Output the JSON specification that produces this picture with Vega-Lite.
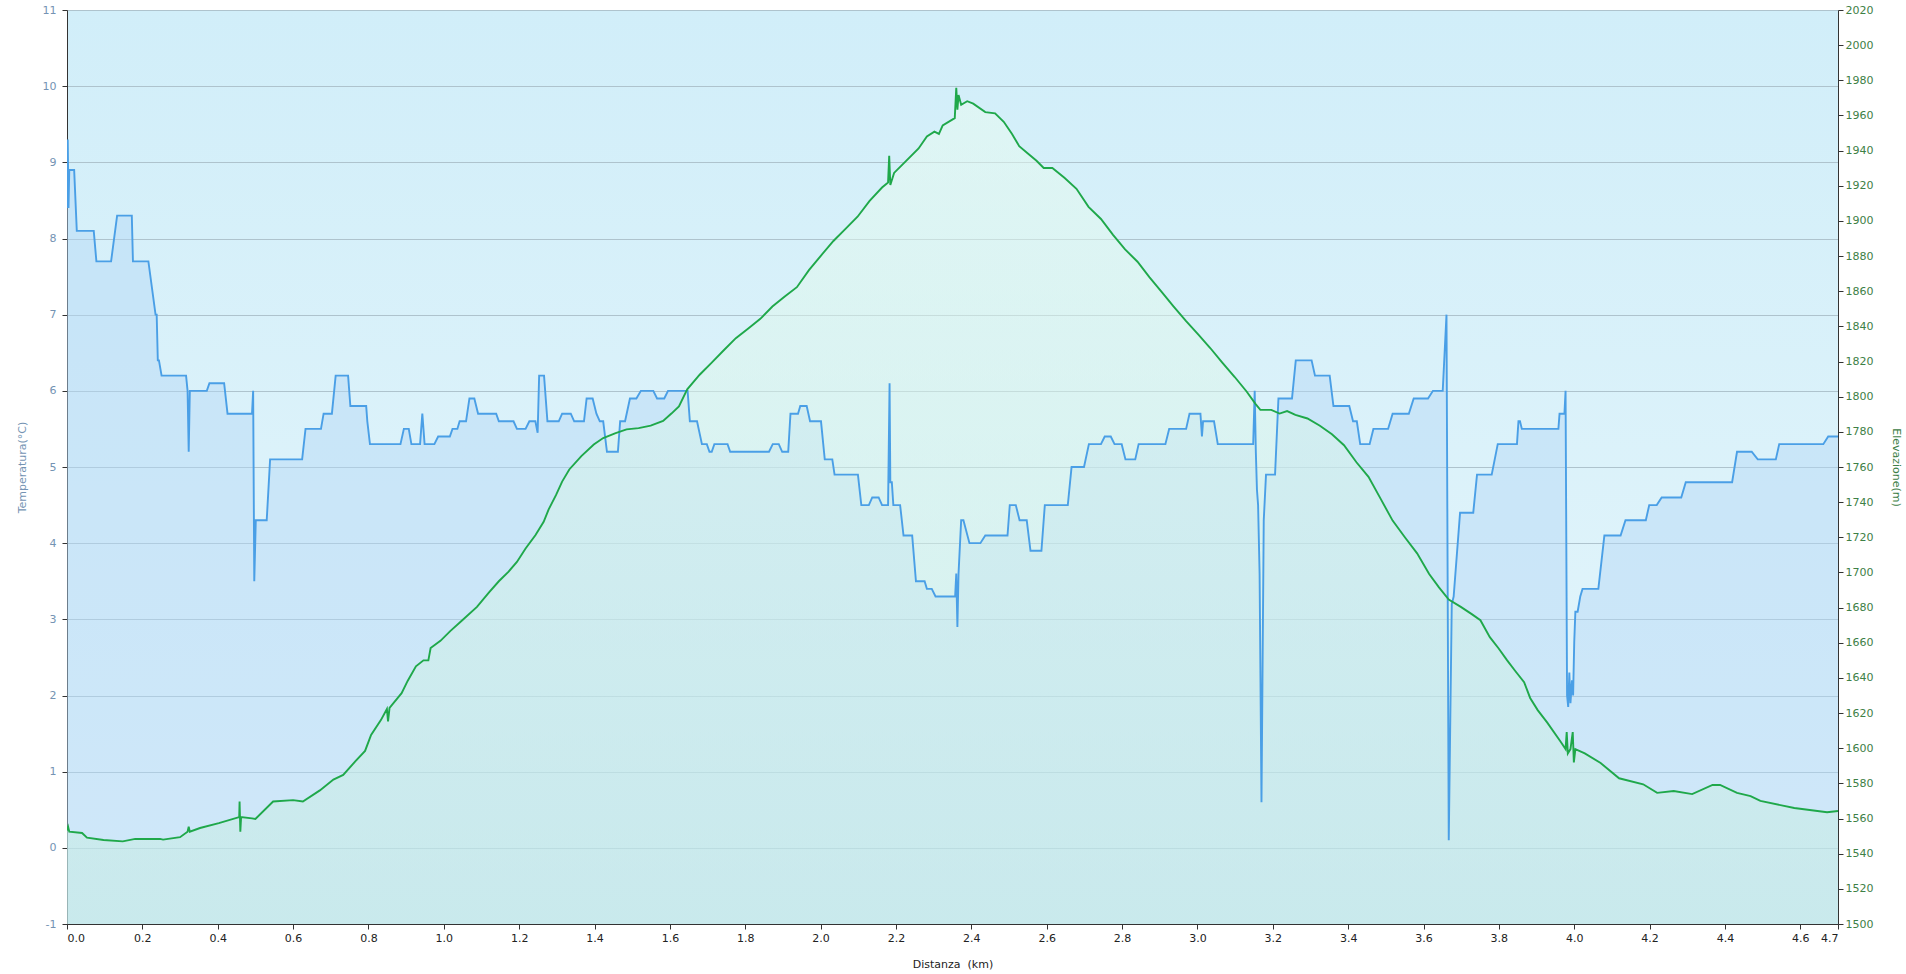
{
  "$schema": "https://vega.github.io/schema/vega-lite/v6.json",
  "width": 1771,
  "height": 914,
  "autosize": "none",
  "padding": {"left": 67, "top": 10, "right": 68, "bottom": 50},
  "background": "white",
  "config": {
    "font": "DejaVu Sans",
    "view": {
      "stroke": "#c4c4c4",
      "fill": {
        "gradient": "linear", "x1": 0, "y1": 0, "x2": 0, "y2": 1,
        "stops": [{"offset": 0, "color": "#d1eef9"}, {"offset": 1, "color": "#e6f6fb"}]
      }
    },
    "axis": {
      "domainColor": "#333333",
      "tickColor": "#333333",
      "tickSize": 5,
      "labelFontSize": 11,
      "titleFontSize": 11,
      "titleFontWeight": "normal",
      "grid": false
    }
  },
  "datasets": {
    "temp": [
      {"d": 0.000, "t": 8.4}, {"d": 0.002, "t": 9.3}, {"d": 0.004, "t": 8.4}, {"d": 0.006, "t": 8.9},
      {"d": 0.019, "t": 8.9}, {"d": 0.026, "t": 8.1}, {"d": 0.071, "t": 8.1}, {"d": 0.078, "t": 7.7},
      {"d": 0.117, "t": 7.7}, {"d": 0.133, "t": 8.3}, {"d": 0.172, "t": 8.3}, {"d": 0.175, "t": 7.7},
      {"d": 0.216, "t": 7.7}, {"d": 0.235, "t": 7.0}, {"d": 0.238, "t": 7.0}, {"d": 0.241, "t": 6.4},
      {"d": 0.244, "t": 6.4}, {"d": 0.251, "t": 6.2}, {"d": 0.316, "t": 6.2}, {"d": 0.320, "t": 6.0},
      {"d": 0.323, "t": 5.2}, {"d": 0.326, "t": 6.0}, {"d": 0.371, "t": 6.0}, {"d": 0.378, "t": 6.1},
      {"d": 0.417, "t": 6.1}, {"d": 0.426, "t": 5.7}, {"d": 0.491, "t": 5.7}, {"d": 0.494, "t": 6.0},
      {"d": 0.497, "t": 3.5}, {"d": 0.501, "t": 4.3}, {"d": 0.530, "t": 4.3}, {"d": 0.539, "t": 5.1},
      {"d": 0.624, "t": 5.1}, {"d": 0.633, "t": 5.5}, {"d": 0.674, "t": 5.5}, {"d": 0.681, "t": 5.7},
      {"d": 0.703, "t": 5.7}, {"d": 0.713, "t": 6.2}, {"d": 0.746, "t": 6.2}, {"d": 0.752, "t": 5.8},
      {"d": 0.794, "t": 5.8}, {"d": 0.797, "t": 5.6}, {"d": 0.804, "t": 5.3}, {"d": 0.885, "t": 5.3},
      {"d": 0.894, "t": 5.5}, {"d": 0.907, "t": 5.5}, {"d": 0.914, "t": 5.3}, {"d": 0.937, "t": 5.3},
      {"d": 0.943, "t": 5.7}, {"d": 0.949, "t": 5.3}, {"d": 0.975, "t": 5.3}, {"d": 0.985, "t": 5.4},
      {"d": 1.016, "t": 5.4}, {"d": 1.023, "t": 5.5}, {"d": 1.036, "t": 5.5}, {"d": 1.042, "t": 5.6},
      {"d": 1.059, "t": 5.6}, {"d": 1.068, "t": 5.9}, {"d": 1.081, "t": 5.9}, {"d": 1.091, "t": 5.7},
      {"d": 1.139, "t": 5.7}, {"d": 1.146, "t": 5.6}, {"d": 1.185, "t": 5.6}, {"d": 1.194, "t": 5.5},
      {"d": 1.217, "t": 5.5}, {"d": 1.227, "t": 5.6}, {"d": 1.243, "t": 5.6}, {"d": 1.249, "t": 5.45},
      {"d": 1.253, "t": 6.2}, {"d": 1.266, "t": 6.2}, {"d": 1.275, "t": 5.6}, {"d": 1.305, "t": 5.6},
      {"d": 1.314, "t": 5.7}, {"d": 1.337, "t": 5.7}, {"d": 1.346, "t": 5.6}, {"d": 1.372, "t": 5.6},
      {"d": 1.379, "t": 5.9}, {"d": 1.395, "t": 5.9}, {"d": 1.405, "t": 5.7}, {"d": 1.414, "t": 5.6},
      {"d": 1.423, "t": 5.6}, {"d": 1.433, "t": 5.2}, {"d": 1.462, "t": 5.2}, {"d": 1.468, "t": 5.6},
      {"d": 1.481, "t": 5.6}, {"d": 1.494, "t": 5.9}, {"d": 1.511, "t": 5.9}, {"d": 1.523, "t": 6.0},
      {"d": 1.556, "t": 6.0}, {"d": 1.566, "t": 5.9}, {"d": 1.585, "t": 5.9}, {"d": 1.595, "t": 6.0},
      {"d": 1.647, "t": 6.0}, {"d": 1.653, "t": 5.6}, {"d": 1.672, "t": 5.6}, {"d": 1.685, "t": 5.3},
      {"d": 1.698, "t": 5.3}, {"d": 1.705, "t": 5.2}, {"d": 1.711, "t": 5.2}, {"d": 1.718, "t": 5.3},
      {"d": 1.753, "t": 5.3}, {"d": 1.760, "t": 5.2}, {"d": 1.863, "t": 5.2}, {"d": 1.873, "t": 5.3},
      {"d": 1.889, "t": 5.3}, {"d": 1.898, "t": 5.2}, {"d": 1.914, "t": 5.2}, {"d": 1.920, "t": 5.7},
      {"d": 1.940, "t": 5.7}, {"d": 1.946, "t": 5.8}, {"d": 1.963, "t": 5.8}, {"d": 1.972, "t": 5.6},
      {"d": 2.001, "t": 5.6}, {"d": 2.011, "t": 5.1}, {"d": 2.031, "t": 5.1}, {"d": 2.037, "t": 4.9},
      {"d": 2.099, "t": 4.9}, {"d": 2.108, "t": 4.5}, {"d": 2.128, "t": 4.5}, {"d": 2.137, "t": 4.6},
      {"d": 2.154, "t": 4.6}, {"d": 2.163, "t": 4.5}, {"d": 2.179, "t": 4.5}, {"d": 2.183, "t": 6.1},
      {"d": 2.185, "t": 4.8}, {"d": 2.189, "t": 4.8}, {"d": 2.193, "t": 4.5}, {"d": 2.211, "t": 4.5},
      {"d": 2.220, "t": 4.1}, {"d": 2.243, "t": 4.1}, {"d": 2.253, "t": 3.5}, {"d": 2.276, "t": 3.5},
      {"d": 2.282, "t": 3.4}, {"d": 2.295, "t": 3.4}, {"d": 2.305, "t": 3.3}, {"d": 2.357, "t": 3.3},
      {"d": 2.360, "t": 3.6}, {"d": 2.363, "t": 2.9}, {"d": 2.366, "t": 3.6}, {"d": 2.373, "t": 4.3},
      {"d": 2.379, "t": 4.3}, {"d": 2.395, "t": 4.0}, {"d": 2.424, "t": 4.0}, {"d": 2.437, "t": 4.1},
      {"d": 2.496, "t": 4.1}, {"d": 2.502, "t": 4.5}, {"d": 2.518, "t": 4.5}, {"d": 2.528, "t": 4.3},
      {"d": 2.547, "t": 4.3}, {"d": 2.557, "t": 3.9}, {"d": 2.586, "t": 3.9}, {"d": 2.595, "t": 4.5},
      {"d": 2.656, "t": 4.5}, {"d": 2.666, "t": 5.0}, {"d": 2.699, "t": 5.0}, {"d": 2.712, "t": 5.3},
      {"d": 2.744, "t": 5.3}, {"d": 2.754, "t": 5.4}, {"d": 2.770, "t": 5.4}, {"d": 2.780, "t": 5.3},
      {"d": 2.799, "t": 5.3}, {"d": 2.809, "t": 5.1}, {"d": 2.835, "t": 5.1}, {"d": 2.844, "t": 5.3},
      {"d": 2.915, "t": 5.3}, {"d": 2.925, "t": 5.5}, {"d": 2.970, "t": 5.5}, {"d": 2.979, "t": 5.7},
      {"d": 3.008, "t": 5.7}, {"d": 3.012, "t": 5.4}, {"d": 3.015, "t": 5.6}, {"d": 3.044, "t": 5.6},
      {"d": 3.054, "t": 5.3}, {"d": 3.148, "t": 5.3}, {"d": 3.152, "t": 6.0}, {"d": 3.155, "t": 5.2},
      {"d": 3.158, "t": 4.7}, {"d": 3.161, "t": 4.5}, {"d": 3.165, "t": 3.6}, {"d": 3.170, "t": 0.6},
      {"d": 3.176, "t": 4.3}, {"d": 3.182, "t": 4.9}, {"d": 3.206, "t": 4.9}, {"d": 3.215, "t": 5.9},
      {"d": 3.251, "t": 5.9}, {"d": 3.261, "t": 6.4}, {"d": 3.303, "t": 6.4}, {"d": 3.312, "t": 6.2},
      {"d": 3.351, "t": 6.2}, {"d": 3.361, "t": 5.8}, {"d": 3.403, "t": 5.8}, {"d": 3.413, "t": 5.6},
      {"d": 3.423, "t": 5.6}, {"d": 3.432, "t": 5.3}, {"d": 3.457, "t": 5.3}, {"d": 3.467, "t": 5.5},
      {"d": 3.506, "t": 5.5}, {"d": 3.518, "t": 5.7}, {"d": 3.561, "t": 5.7}, {"d": 3.574, "t": 5.9},
      {"d": 3.612, "t": 5.9}, {"d": 3.625, "t": 6.0}, {"d": 3.651, "t": 6.0}, {"d": 3.654, "t": 6.3},
      {"d": 3.661, "t": 7.0}, {"d": 3.667, "t": 0.1}, {"d": 3.675, "t": 3.2}, {"d": 3.680, "t": 3.3},
      {"d": 3.697, "t": 4.4}, {"d": 3.732, "t": 4.4}, {"d": 3.742, "t": 4.9}, {"d": 3.781, "t": 4.9},
      {"d": 3.797, "t": 5.3}, {"d": 3.848, "t": 5.3}, {"d": 3.852, "t": 5.6}, {"d": 3.856, "t": 5.6},
      {"d": 3.861, "t": 5.5}, {"d": 3.958, "t": 5.5}, {"d": 3.961, "t": 5.7}, {"d": 3.974, "t": 5.7},
      {"d": 3.977, "t": 6.0}, {"d": 3.981, "t": 2.0}, {"d": 3.984, "t": 1.85}, {"d": 3.987, "t": 2.3},
      {"d": 3.990, "t": 1.9}, {"d": 3.994, "t": 2.2}, {"d": 3.997, "t": 2.0}, {"d": 4.000, "t": 2.7},
      {"d": 4.003, "t": 3.1}, {"d": 4.009, "t": 3.1}, {"d": 4.016, "t": 3.3}, {"d": 4.022, "t": 3.4},
      {"d": 4.064, "t": 3.4}, {"d": 4.080, "t": 4.1}, {"d": 4.123, "t": 4.1}, {"d": 4.136, "t": 4.3},
      {"d": 4.190, "t": 4.3}, {"d": 4.199, "t": 4.5}, {"d": 4.219, "t": 4.5}, {"d": 4.232, "t": 4.6},
      {"d": 4.284, "t": 4.6}, {"d": 4.296, "t": 4.8}, {"d": 4.419, "t": 4.8}, {"d": 4.432, "t": 5.2},
      {"d": 4.471, "t": 5.2}, {"d": 4.487, "t": 5.1}, {"d": 4.535, "t": 5.1}, {"d": 4.544, "t": 5.3},
      {"d": 4.661, "t": 5.3}, {"d": 4.674, "t": 5.4}, {"d": 4.700, "t": 5.4}
    ],
    "elev": [
      {"d": 0.000, "e": 1553.2}, {"d": 0.003, "e": 1555.3}, {"d": 0.006, "e": 1552.5}, {"d": 0.040, "e": 1551.8},
      {"d": 0.053, "e": 1549.1}, {"d": 0.097, "e": 1547.8}, {"d": 0.148, "e": 1547.0}, {"d": 0.181, "e": 1548.4},
      {"d": 0.247, "e": 1548.4}, {"d": 0.255, "e": 1548.0}, {"d": 0.300, "e": 1549.4}, {"d": 0.320, "e": 1552.5},
      {"d": 0.323, "e": 1555.3}, {"d": 0.326, "e": 1552.5}, {"d": 0.353, "e": 1554.6}, {"d": 0.403, "e": 1557.4},
      {"d": 0.457, "e": 1560.8}, {"d": 0.458, "e": 1569.7}, {"d": 0.460, "e": 1552.5}, {"d": 0.462, "e": 1560.8},
      {"d": 0.491, "e": 1560.1}, {"d": 0.500, "e": 1559.8}, {"d": 0.547, "e": 1569.7}, {"d": 0.600, "e": 1570.5},
      {"d": 0.626, "e": 1569.7}, {"d": 0.671, "e": 1576.0}, {"d": 0.707, "e": 1582.2}, {"d": 0.733, "e": 1584.8},
      {"d": 0.765, "e": 1592.5}, {"d": 0.791, "e": 1598.5}, {"d": 0.807, "e": 1607.6}, {"d": 0.833, "e": 1616.0},
      {"d": 0.849, "e": 1622.3}, {"d": 0.852, "e": 1615.3}, {"d": 0.856, "e": 1623.0}, {"d": 0.888, "e": 1631.3},
      {"d": 0.904, "e": 1638.3}, {"d": 0.926, "e": 1646.6}, {"d": 0.946, "e": 1650.0}, {"d": 0.959, "e": 1650.0},
      {"d": 0.965, "e": 1657.0}, {"d": 0.991, "e": 1661.1}, {"d": 1.017, "e": 1666.6}, {"d": 1.049, "e": 1672.8},
      {"d": 1.088, "e": 1680.4}, {"d": 1.120, "e": 1688.7}, {"d": 1.146, "e": 1695.0}, {"d": 1.172, "e": 1700.5},
      {"d": 1.194, "e": 1706.0}, {"d": 1.217, "e": 1713.6}, {"d": 1.243, "e": 1721.2}, {"d": 1.265, "e": 1728.8},
      {"d": 1.278, "e": 1735.8}, {"d": 1.298, "e": 1744.1}, {"d": 1.314, "e": 1751.7}, {"d": 1.333, "e": 1758.6},
      {"d": 1.365, "e": 1766.2}, {"d": 1.398, "e": 1772.8}, {"d": 1.423, "e": 1776.5}, {"d": 1.456, "e": 1779.3},
      {"d": 1.485, "e": 1781.4}, {"d": 1.517, "e": 1782.1}, {"d": 1.549, "e": 1783.5}, {"d": 1.582, "e": 1786.2},
      {"d": 1.604, "e": 1790.4}, {"d": 1.624, "e": 1794.5}, {"d": 1.646, "e": 1804.2}, {"d": 1.679, "e": 1812.5},
      {"d": 1.711, "e": 1819.4}, {"d": 1.743, "e": 1826.4}, {"d": 1.775, "e": 1833.3}, {"d": 1.808, "e": 1838.8},
      {"d": 1.840, "e": 1844.3}, {"d": 1.872, "e": 1851.3}, {"d": 1.904, "e": 1856.8}, {"d": 1.937, "e": 1862.3},
      {"d": 1.969, "e": 1872.0}, {"d": 2.001, "e": 1880.3}, {"d": 2.034, "e": 1888.6}, {"d": 2.066, "e": 1895.5},
      {"d": 2.098, "e": 1902.4}, {"d": 2.130, "e": 1911.4}, {"d": 2.163, "e": 1919.0}, {"d": 2.179, "e": 1921.8},
      {"d": 2.182, "e": 1937.0}, {"d": 2.185, "e": 1920.4}, {"d": 2.195, "e": 1927.3}, {"d": 2.227, "e": 1934.2},
      {"d": 2.260, "e": 1941.2}, {"d": 2.282, "e": 1948.1}, {"d": 2.302, "e": 1950.8}, {"d": 2.314, "e": 1949.5},
      {"d": 2.324, "e": 1954.3}, {"d": 2.356, "e": 1958.5}, {"d": 2.360, "e": 1975.7}, {"d": 2.363, "e": 1963.3},
      {"d": 2.366, "e": 1971.6}, {"d": 2.373, "e": 1966.1}, {"d": 2.389, "e": 1968.1}, {"d": 2.405, "e": 1966.7},
      {"d": 2.437, "e": 1961.9}, {"d": 2.463, "e": 1961.2}, {"d": 2.486, "e": 1956.4}, {"d": 2.508, "e": 1949.5},
      {"d": 2.527, "e": 1942.5}, {"d": 2.550, "e": 1938.4}, {"d": 2.573, "e": 1934.2}, {"d": 2.592, "e": 1930.1},
      {"d": 2.615, "e": 1930.1}, {"d": 2.647, "e": 1924.6}, {"d": 2.679, "e": 1918.3}, {"d": 2.711, "e": 1908.0},
      {"d": 2.744, "e": 1901.1}, {"d": 2.776, "e": 1892.1}, {"d": 2.808, "e": 1883.8}, {"d": 2.841, "e": 1876.8},
      {"d": 2.873, "e": 1867.9}, {"d": 2.905, "e": 1859.6}, {"d": 2.937, "e": 1851.3}, {"d": 2.970, "e": 1843.0},
      {"d": 3.002, "e": 1835.4}, {"d": 3.034, "e": 1827.7}, {"d": 3.066, "e": 1819.4}, {"d": 3.099, "e": 1811.2},
      {"d": 3.131, "e": 1802.8}, {"d": 3.154, "e": 1795.9}, {"d": 3.167, "e": 1792.5}, {"d": 3.196, "e": 1792.5},
      {"d": 3.218, "e": 1790.4}, {"d": 3.238, "e": 1791.8}, {"d": 3.260, "e": 1789.7}, {"d": 3.292, "e": 1787.6},
      {"d": 3.325, "e": 1783.5}, {"d": 3.357, "e": 1778.6}, {"d": 3.389, "e": 1772.4}, {"d": 3.422, "e": 1762.7},
      {"d": 3.454, "e": 1754.4}, {"d": 3.486, "e": 1742.0}, {"d": 3.518, "e": 1729.5}, {"d": 3.551, "e": 1719.9},
      {"d": 3.583, "e": 1710.9}, {"d": 3.615, "e": 1699.1}, {"d": 3.641, "e": 1691.5}, {"d": 3.667, "e": 1684.6},
      {"d": 3.699, "e": 1680.4}, {"d": 3.728, "e": 1676.3}, {"d": 3.751, "e": 1672.8}, {"d": 3.776, "e": 1663.2},
      {"d": 3.799, "e": 1656.9}, {"d": 3.822, "e": 1650.0}, {"d": 3.844, "e": 1643.8}, {"d": 3.867, "e": 1637.6},
      {"d": 3.883, "e": 1628.6}, {"d": 3.903, "e": 1621.7}, {"d": 3.928, "e": 1614.7}, {"d": 3.964, "e": 1603.7},
      {"d": 3.977, "e": 1599.5}, {"d": 3.980, "e": 1609.2}, {"d": 3.983, "e": 1597.1}, {"d": 3.990, "e": 1599.5},
      {"d": 3.996, "e": 1609.2}, {"d": 3.999, "e": 1591.9}, {"d": 4.003, "e": 1599.5}, {"d": 4.028, "e": 1597.1},
      {"d": 4.070, "e": 1591.6}, {"d": 4.119, "e": 1582.9}, {"d": 4.183, "e": 1579.5}, {"d": 4.220, "e": 1574.6},
      {"d": 4.264, "e": 1575.7}, {"d": 4.313, "e": 1573.9}, {"d": 4.367, "e": 1579.1}, {"d": 4.387, "e": 1579.1},
      {"d": 4.432, "e": 1574.6}, {"d": 4.468, "e": 1572.8}, {"d": 4.494, "e": 1570.0}, {"d": 4.584, "e": 1566.0},
      {"d": 4.671, "e": 1563.6}, {"d": 4.700, "e": 1564.3}
    ]
  },
  "encoding": {
    "x": {
      "field": "d",
      "type": "quantitative",
      "scale": {"domain": [0, 4.7], "nice": false, "zero": false},
      "axis": {
        "title": "Distanza\u00a0 (km)",
        "titleColor": "#222222",
        "titleFontSize": 11,
        "titleY": 34,
        "labelColor": "#222222",
        "values": [0, 0.2, 0.4, 0.6, 0.8, 1, 1.2, 1.4, 1.6, 1.8, 2, 2.2, 2.4, 2.6, 2.8, 3, 3.2, 3.4, 3.6, 3.8, 4, 4.2, 4.4, 4.6, 4.7],
        "format": ".1f",
        "labelFlush": true,
        "labelOverlap": false,
        "labelPadding": 3
      }
    }
  },
  "layer": [
    {
      "data": {"name": "temp"},
      "mark": {"type": "area", "color": "#b3d7f7", "fillOpacity": 0.45, "clip": true},
      "encoding": {
        "y": {
          "field": "t",
          "type": "quantitative",
          "scale": {"domain": [-1, 11], "nice": false, "zero": false},
          "axis": {
            "orient": "left",
            "title": "Temperatura(°C)",
            "titleColor": "#7493b3",
            "titleX": -40,
            "labelColor": "#7493b3",
            "values": [-1, 0, 1, 2, 3, 4, 5, 6, 7, 8, 9, 10, 11],
            "labelExpr": "toString(datum.value)",
            "labelPadding": 6,
            "grid": true,
            "gridColor": "#aec3cd",
            "gridWidth": 1.2
          }
        },
        "y2": {"datum": -1}
      }
    },
    {
      "data": {"name": "elev"},
      "mark": {
        "type": "area",
        "color": {
          "gradient": "linear", "x1": 0, "y1": 0, "x2": 0, "y2": 1,
          "stops": [{"offset": 0, "color": "#eafcf0"}, {"offset": 1, "color": "#c3ebe0"}]
        },
        "fillOpacity": 0.5,
        "clip": true
      },
      "encoding": {
        "y": {
          "field": "e",
          "type": "quantitative",
          "scale": {"domain": [1500, 2020], "nice": false, "zero": false},
          "axis": {
            "orient": "right",
            "title": "Elevazione(m)",
            "titleColor": "#3d8046",
            "titleAngle": 90,
            "titleX": 52,
            "labelColor": "#3d8046",
            "values": [1500, 1520, 1540, 1560, 1580, 1600, 1620, 1640, 1660, 1680, 1700, 1720, 1740, 1760, 1780, 1800, 1820, 1840, 1860, 1880, 1900, 1920, 1940, 1960, 1980, 2000, 2020],
            "format": "d",
            "labelPadding": 2,
            "grid": false
          }
        },
        "y2": {"datum": 1500}
      }
    },
    {
      "data": {"name": "temp"},
      "mark": {"type": "line", "color": "#4a9fe6", "strokeWidth": 1.9, "clip": true},
      "encoding": {
        "y": {
          "field": "t",
          "type": "quantitative",
          "scale": {"domain": [-1, 11], "nice": false, "zero": false},
          "axis": null
        }
      }
    },
    {
      "data": {"name": "elev"},
      "mark": {"type": "line", "color": "#1fa84a", "strokeWidth": 1.9, "clip": true},
      "encoding": {
        "y": {
          "field": "e",
          "type": "quantitative",
          "scale": {"domain": [1500, 2020], "nice": false, "zero": false},
          "axis": null
        }
      }
    }
  ],
  "resolve": {"scale": {"y": "independent"}}
}
